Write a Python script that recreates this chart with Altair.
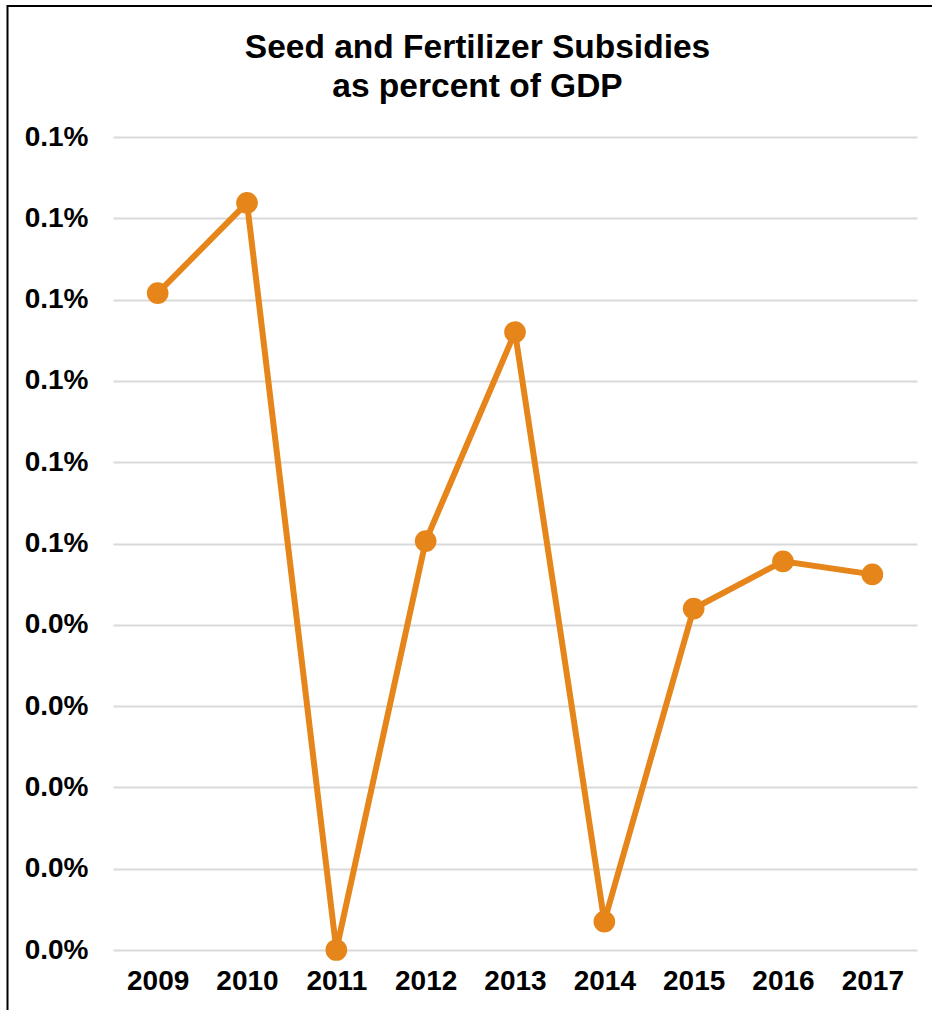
import altair as alt
import pandas as pd

years = ["2009", "2010", "2011", "2012", "2013", "2014", "2015", "2016", "2017"]
values = [0.000808, 0.000919, 0.0, 0.000503, 0.000760, 0.000035, 0.000420, 0.000478, 0.000462]
y_ticks = [0.0, 0.0001, 0.0002, 0.0003, 0.0004, 0.0005, 0.0006, 0.0007, 0.0008, 0.0009, 0.001]
title_lines = ["Seed and Fertilizer Subsidies", "as percent of GDP"]

df = pd.DataFrame({"year": years, "value": values})

FONT = "Liberation Sans"
COLOR = "#E5851A"

x_enc = alt.X(
    "year:O",
    scale=alt.Scale(type="point", padding=0.5),
    axis=alt.Axis(
        title=None, labelAngle=0, ticks=False, domain=False, grid=False,
        labelFont=FONT, labelFontSize=28, labelFontWeight="bold",
        labelColor="black", labelPadding=17,
    ),
)
y_enc = alt.Y(
    "value:Q",
    scale=alt.Scale(domain=[0, 0.001], nice=False, zero=True),
    axis=alt.Axis(
        title=None, values=y_ticks, format=".1%", ticks=False, domain=False,
        grid=True, gridColor="#D9D9D9", gridWidth=2,
        labelFont=FONT, labelFontSize=28, labelFontWeight="bold",
        labelColor="black", labelPadding=25,
    ),
)

line = alt.Chart(df).mark_line(color=COLOR, strokeWidth=6).encode(x=x_enc, y=y_enc)
points = alt.Chart(df).mark_circle(color=COLOR, size=470, opacity=1).encode(x=x_enc, y=y_enc)

one = pd.DataFrame({"a": [0]})
frame = alt.Chart(one).mark_rect(
    fill=None, stroke="black", strokeWidth=2
).encode(
    x=alt.value(-105.5), y=alt.value(-131), x2=alt.value(900), y2=alt.value(950)
)

title1 = alt.Chart(pd.DataFrame({"t": [title_lines[0]]})).mark_text(
    font=FONT, fontSize=33.5, fontWeight="bold", color="black",
    align="center", baseline="alphabetic"
).encode(text="t:N", x=alt.value(364.5), y=alt.value(-79))
title2 = alt.Chart(pd.DataFrame({"t": [title_lines[1]]})).mark_text(
    font=FONT, fontSize=33.5, fontWeight="bold", color="black",
    align="center", baseline="alphabetic"
).encode(text="t:N", x=alt.value(364.5), y=alt.value(-40))

chart = alt.layer(frame, line, points, title1, title2).properties(
    width=804,
    height=813,
    background="white",
    autosize=alt.AutoSizeParams(type="none"),
    padding={"left": 113, "top": 137, "right": 15, "bottom": 60},
).configure_view(stroke="transparent", strokeWidth=0)

chart.save("out.html", embed_options={"renderer": "svg", "actions": False})
